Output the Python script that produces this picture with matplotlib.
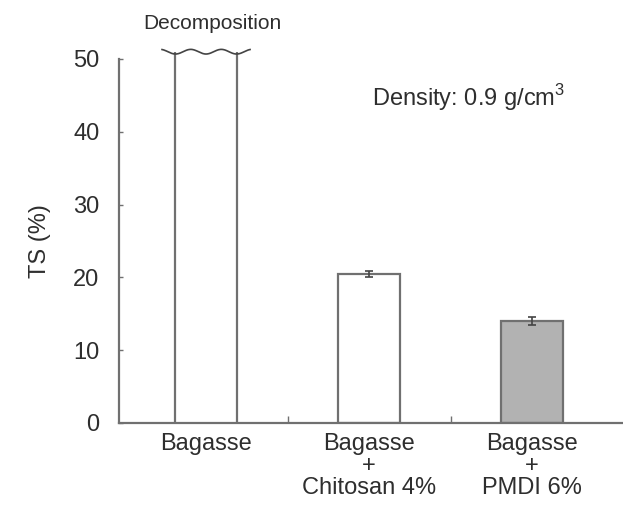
import numpy as np
from matplotlib import pyplot as plt

# data
labels = ["Bagasse", "Bagasse\n+\nChitosan 4%", "Bagasse\n+\nPMDI 6%"]
ts_values = [51.0, 20.5, 14.0]  # first bar decomposed (drawn past the axis top)
ts_errors = [0.0, 0.4, 0.5]
fill_colors = ["white", "white", "#b2b2b2"]
y_ticks = [0, 10, 20, 30, 40, 50]

plt.rcParams["font.family"] = ["Liberation Sans", "DejaVu Sans"]
plt.rcParams["mathtext.fontset"] = "custom"
plt.rcParams["mathtext.rm"] = "Liberation Sans"

AX_COLOR = "#707070"
TXT_COLOR = "#2e2e2e"
BAR_W = 0.375

fig = plt.figure(figsize=(6.23, 5.05), dpi=100)
ax = fig.add_axes([0.191, 0.1624, 0.809, 0.7208])

x = np.arange(len(labels))

# bars 2 and 3 are ordinary bars with error bars
ax.bar(x[1:], ts_values[1:], width=BAR_W, color=fill_colors[1:],
       edgecolor=AX_COLOR, linewidth=1.6, zorder=2)
ax.errorbar(x[1:], ts_values[1:], yerr=ts_errors[1:], fmt="none",
            ecolor="#444444", elinewidth=1.2, capsize=3, capthick=1.2, zorder=3)

# first bar: open top, closed by a wavy break line
ax.bar(x[0], ts_values[0], width=BAR_W, color=fill_colors[0], linewidth=0,
       clip_on=False, zorder=2)
ax.vlines([x[0] - BAR_W / 2, x[0] + BAR_W / 2], 0, ts_values[0],
          colors=AX_COLOR, linewidth=1.6, clip_on=False, zorder=3)
wx = np.linspace(x[0] - 0.27, x[0] + 0.27, 200)
wy = ts_values[0] + 0.32 * np.cos((wx - (x[0] - BAR_W / 2)) / (BAR_W / 2) * 2 * np.pi + np.pi)
ax.plot(wx, wy, color="#444444", linewidth=1.2, clip_on=False, zorder=4)
ax.text(x[0] + 0.04, 54.9, "Decomposition", ha="center", va="center",
        fontsize=15, color=TXT_COLOR, clip_on=False)

ax.text(1.02, 44.7, r"Density: 0.9 g/cm$^{\mathregular{3}}$", ha="left",
        va="center", fontsize=17, color=TXT_COLOR)

ax.set_xlim(-0.534, 2.558)
ax.set_ylim(0, 50)

ax.spines["top"].set_visible(False)
ax.spines["right"].set_visible(False)
for s in ("left", "bottom"):
    ax.spines[s].set_color(AX_COLOR)
    ax.spines[s].set_linewidth(1.6)

ax.set_yticks(y_ticks)
ax.tick_params(axis="y", direction="in", length=3, width=1, color=AX_COLOR,
               labelsize=17, labelcolor=TXT_COLOR, pad=14)

ax.set_xticks(x)
ax.set_xticklabels(labels, linespacing=1.0)
ax.set_xticks([0.5, 1.5], minor=True)
ax.tick_params(axis="x", which="major", length=0, labelsize=17,
               labelcolor=TXT_COLOR, pad=7)
ax.tick_params(axis="x", which="minor", direction="in", length=5, width=1,
               color=AX_COLOR)

ax.set_ylabel("TS (%)", fontsize=17, color=TXT_COLOR, labelpad=16)

plt.savefig("out.png", dpi=100)
plt.close()
